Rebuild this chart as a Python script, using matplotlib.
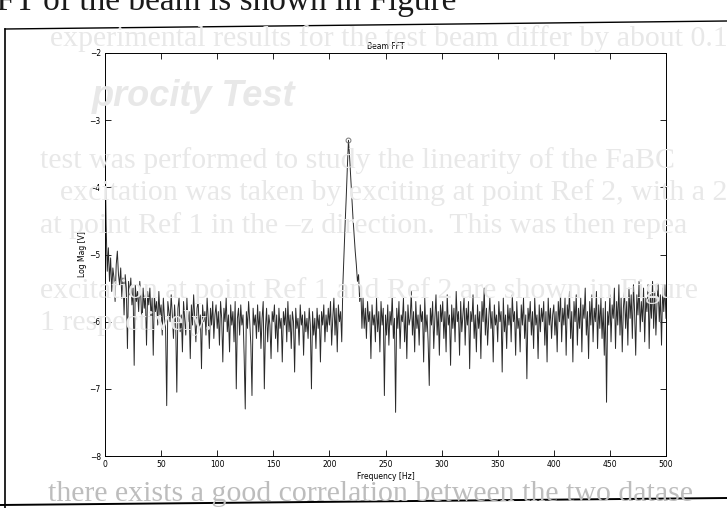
import numpy as np
import matplotlib.pyplot as plt
from matplotlib.lines import Line2D

# log magnitude, 1 Hz steps
mag_0_99 = [-3.30, -4.55, -5.25, -4.90, -5.40, -5.05, -5.55, -5.20, -5.35, -5.70,
            -5.15, -4.95, -5.30, -5.45, -5.20, -5.65, -5.35, -5.90, -5.30, -5.50,
            -6.40, -5.40, -5.60, -5.35, -5.75, -5.50, -6.65, -5.45, -5.70, -5.55,
            -5.85, -5.40, -5.65, -6.10, -5.50, -5.80, -5.60, -6.35, -5.55, -5.75,
            -5.50, -5.95, -5.65, -6.50, -5.60, -5.85, -5.70, -6.05, -5.55, -5.90,
            -5.75, -6.20, -5.65, -5.95, -6.10, -7.25, -5.70, -5.85, -6.00, -5.60,
            -5.90, -6.25, -5.75, -6.05, -7.05, -5.80, -5.65, -6.15, -5.90, -6.45,
            -5.70, -5.95, -6.20, -5.65, -6.00, -5.85, -6.55, -5.75, -6.05, -5.60,
            -5.95, -6.30, -5.80, -5.70, -6.10, -5.90, -6.70, -5.75, -6.00, -5.85,
            -6.20, -5.65, -5.95, -6.40, -5.80, -6.05, -5.70, -6.25, -5.90, -5.75]
mag_100_199 = [-6.10, -5.85, -6.35, -5.70, -5.95, -6.60, -5.80, -6.00, -5.65, -6.15,
               -5.90, -6.45, -5.75, -6.05, -5.85, -6.30, -5.70, -7.00, -5.95, -5.80,
               -6.20, -5.75, -6.05, -5.90, -6.50, -7.30, -5.85, -6.10, -5.70, -6.00,
               -6.35, -7.10, -5.80, -6.05, -5.90, -6.25, -5.75, -6.15, -5.85, -6.40,
               -5.95, -5.70, -7.00, -6.10, -5.80, -6.30, -5.90, -6.05, -6.55, -5.85,
               -6.00, -5.75, -6.25, -5.90, -6.45, -5.80, -6.10, -5.95, -6.60, -5.85,
               -6.05, -5.80, -6.30, -5.70, -6.15, -5.90, -6.40, -5.85, -6.00, -6.75,
               -5.80, -6.10, -5.95, -6.35, -5.75, -6.05, -5.90, -6.50, -5.85, -6.15,
               -5.95, -6.25, -5.80, -6.05, -7.00, -5.85, -6.20, -5.95, -6.40, -5.80,
               -6.10, -5.90, -6.60, -5.85, -6.05, -5.75, -6.30, -5.90, -6.15, -5.80]
mag_200_299 = [-6.05, -5.70, -6.35, -5.95, -5.65, -6.20, -5.80, -6.45, -5.75, -6.00,
               -5.85, -6.30, -5.45, -5.00, -4.55, -4.15, -3.70, -3.30, -3.55, -3.85,
               -4.15, -4.45, -4.70, -4.95, -5.15, -5.40, -5.30, -5.70, -5.50, -6.10,
               -5.65, -6.10, -5.80, -6.25, -5.70, -6.00, -5.85, -6.55, -5.75, -6.05,
               -5.90, -6.30, -5.65, -6.15, -5.85, -6.45, -5.70, -6.05, -5.80, -7.10,
               -5.90, -6.20, -5.75, -6.35, -5.85, -6.05, -5.60, -6.25, -5.95, -7.35,
               -5.80, -6.10, -5.70, -6.40, -5.90, -6.00, -5.65, -6.30, -5.85, -6.55,
               -5.75, -6.05, -5.95, -5.55, -6.20, -5.85, -6.45, -5.70, -6.10, -5.90,
               -6.35, -5.75, -6.00, -5.85, -6.60, -5.65, -6.15, -5.90, -6.30, -6.95,
               -5.80, -6.05, -5.70, -6.40, -5.95, -5.60, -6.20, -5.85, -6.50, -5.75]
mag_300_399 = [-6.00, -5.70, -6.25, -5.85, -6.45, -5.60, -6.05, -5.90, -6.65, -5.75,
               -6.10, -5.80, -6.30, -5.55, -6.00, -5.85, -6.50, -5.70, -6.15, -5.90,
               -5.65, -6.35, -5.80, -6.05, -5.70, -6.70, -5.85, -6.00, -5.60, -6.25,
               -5.90, -6.45, -5.75, -6.10, -5.85, -6.55, -5.70, -6.00, -5.50, -6.20,
               -5.80, -6.35, -5.95, -5.65, -6.10, -5.85, -6.60, -5.75, -6.05, -5.90,
               -6.30, -5.70, -6.00, -5.85, -6.75, -5.65, -6.15, -5.90, -6.40, -5.75,
               -6.05, -5.80, -6.30, -5.60, -6.00, -5.85, -6.50, -5.70, -6.10, -5.95,
               -6.45, -5.75, -6.05, -5.65, -6.25, -5.90, -6.85, -5.80, -6.00, -5.70,
               -6.20, -5.85, -6.40, -5.65, -6.05, -5.90, -6.55, -5.75, -6.15, -5.80,
               -6.00, -5.70, -6.35, -5.85, -6.60, -5.65, -6.05, -5.80, -6.25, -5.90]
mag_400_500 = [-5.75, -6.20, -5.85, -6.45, -5.70, -6.00, -5.60, -6.30, -5.80, -6.05,
               -5.65, -6.50, -5.75, -5.95, -5.55, -6.25, -5.85, -6.60, -5.70, -6.00,
               -5.60, -6.35, -5.80, -6.10, -5.65, -6.45, -5.75, -5.95, -5.50, -6.20,
               -5.85, -6.55, -5.70, -6.05, -5.60, -6.30, -5.80, -6.00, -5.55, -6.40,
               -5.75, -6.10, -5.65, -6.25, -5.80, -6.50, -5.70, -7.20, -5.85, -6.05,
               -5.60, -6.30, -5.75, -5.95, -5.50, -6.40, -5.70, -6.05, -5.45, -6.20,
               -5.65, -6.45, -5.80, -5.55, -6.10, -5.70, -6.35, -5.50, -5.95, -5.60,
               -6.25, -5.45, -5.85, -6.50, -5.60, -5.90, -5.40, -6.15, -5.70, -6.00,
               -5.50, -6.30, -5.65, -5.85, -5.45, -6.40, -5.60, -5.95, -5.40, -6.10,
               -5.55, -6.20, -5.70, -5.45, -6.00, -5.60, -6.35, -5.50, -5.85, -5.45, -5.95]

peak_freq = 217
peak_mag = -3.30

xticks = [0, 50, 100, 150, 200, 250, 300, 350, 400, 450, 500]
yticks = [-8, -7, -6, -5, -4, -3, -2]

# faint page text behind the scanned figure
page_lines = [
    "experimental results for the test beam differ by about 0.1",
    "test was performed to study the linearity of the FaBC",
    "excitation was taken by exciting at point Ref 2, with a 2 k",
    "at point Ref 1 in the \u2013z direction.  This was then repea",
    "excitation at point Ref 1 and Ref 2 are shown in Figure",
    "1 respectively.",
]

mag = np.array(mag_0_99 + mag_100_199 + mag_200_299 + mag_300_399 + mag_400_500)
freq = np.arange(len(mag)) * 1.0

W, H = 727, 508
fig = plt.figure(figsize=(W / 100, H / 100), dpi=100)

def px(x, y):
    return x / W, 1 - y / H

serif = ['Liberation Serif', 'DejaVu Serif']
fig.text(*px(-22, 10), "FFT of the beam is shown in Figure", fontsize=24,
         family=serif, color='#1a1a1a')
line_pos = [(50, 46), (40, 168), (60, 200), (40, 233), (40, 298), (40, 330)]
for (x, y), s in zip(line_pos, page_lines):
    fig.text(*px(x, y), s, fontsize=21.5, family=serif, color='#e8e8e8')
fig.text(*px(92, 106), "procity Test", fontsize=26,
         family=['Liberation Sans Narrow', 'Liberation Sans', 'DejaVu Sans'],
         weight='bold', style='italic', color='#e8e8e8')
fig.text(*px(48, 501), "there exists a good correlation between the two datase",
         fontsize=21.5, family=serif, color='#bdbdbd')

# scan frame
fig.add_artist(Line2D([5 / W, 5 / W], [1 - 29 / H, 0], color='k', lw=1.2))
fig.add_artist(Line2D([5 / W, 1], [1 - 29 / H, 1 - 21 / H], color='k', lw=1.0))
fig.add_artist(Line2D([0, 1], [1 - 505 / H, 1 - 498 / H], color='k', lw=1.4))

ax = fig.add_axes([105 / W, 1 - 456 / H, (666 - 105) / W, (456 - 53) / H])
ax.set_facecolor('none')
ax.plot(freq, mag, color='#2a2a2a', lw=0.7)
ax.plot([peak_freq], [peak_mag], 'o', mfc='none', mec='#777777', ms=3.5, mew=0.7)

ax.set_xlim(0, 500)
ax.set_ylim(-8, -2)
ax.set_xticks(xticks)
ax.set_yticks(yticks)
ax.tick_params(direction='in', length=4, width=0.6, labelsize=5.5, pad=3,
               top=True, right=True)
for s in ax.spines.values():
    s.set_linewidth(0.7)

ax.set_title("Beam FFT", fontsize=5.5, pad=3)
ax.set_xlabel("Frequency [Hz]", fontsize=5.5, labelpad=2)
ax.set_ylabel("Log Mag [V]", fontsize=5.5, labelpad=2)

fig.savefig("out.png", dpi=100)
